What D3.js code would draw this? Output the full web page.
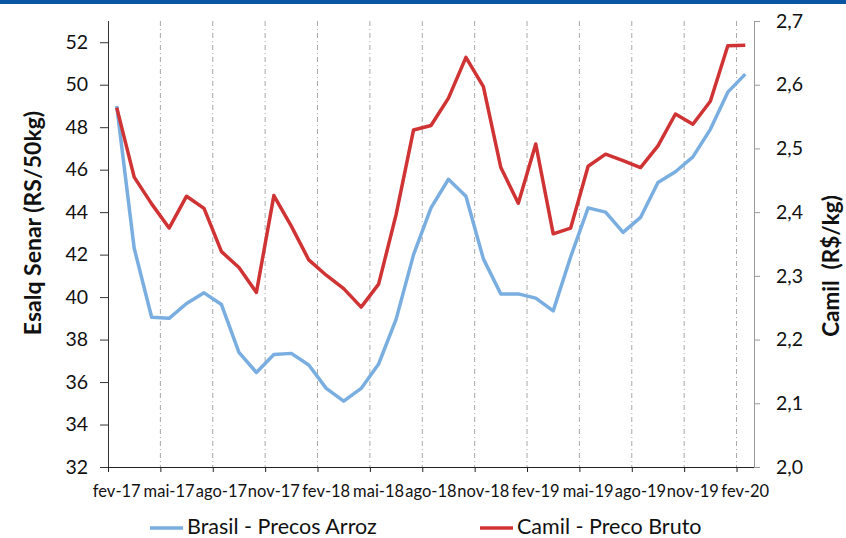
<!DOCTYPE html>
<html>
<head>
<meta charset="utf-8">
<script src="https://cdn.jsdelivr.net/npm/d3@7"></script>
<style>
  html, body { margin: 0; padding: 0; background: #fff; }
  svg { display: block; }
  text { font-family: Lato, "Open Sans", sans-serif; fill: #111; }
</style>
</head>
<body>
<svg id="chart" width="846" height="538"></svg>
<script>
// ---- data ----
const months = [
  "fev-17","mar-17","abr-17","mai-17","jun-17","jul-17","ago-17","set-17","out-17","nov-17","dez-17","jan-18",
  "fev-18","mar-18","abr-18","mai-18","jun-18","jul-18","ago-18","set-18","out-18","nov-18","dez-18","jan-19",
  "fev-19","mar-19","abr-19","mai-19","jun-19","jul-19","ago-19","set-19","out-19","nov-19","dez-19","jan-20",
  "fev-20"
];
const brasilArroz = [
  49.0, 42.3, 39.05, 39.0, 39.7, 40.2, 39.65, 37.4, 36.45, 37.3, 37.35, 36.8,
  35.7, 35.1, 35.7, 36.85, 38.95, 42.0, 44.2, 45.55, 44.75, 41.8, 40.15, 40.15,
  39.95, 39.35, 41.9, 44.2, 44.0, 43.05, 43.75, 45.4, 45.9, 46.6, 47.9, 49.65,
  50.5
];
const camilBruto = [
  2.564, 2.455, 2.413, 2.375, 2.425, 2.406, 2.338, 2.313, 2.274, 2.426, 2.378, 2.325,
  2.301, 2.280, 2.251, 2.287, 2.396, 2.529, 2.536, 2.579, 2.643, 2.597, 2.470, 2.414,
  2.507, 2.366, 2.375, 2.472, 2.491, 2.481, 2.470, 2.504, 2.554, 2.538, 2.574, 2.661,
  2.662
];
const leftTicks = [32, 34, 36, 38, 40, 42, 44, 46, 48, 50, 52];
const rightTicks = [2.0, 2.1, 2.2, 2.3, 2.4, 2.5, 2.6, 2.7];
const labelEvery = 3;
const seriesNames = ["Brasil - Precos Arroz", "Camil - Preco Bruto"];
const seriesColors = ["#7aaee0", "#d03334"];

// ---- layout ----
const L = 108, R = 754, T = 21, B = 467;
const svg = d3.select("#chart");

// top blue bar
svg.append("rect").attr("x", 0).attr("y", 0).attr("width", 846).attr("height", 4).attr("fill", "#0a56a5");

const idx = d3.range(months.length);
const x = d3.scaleBand().domain(idx).range([L, R]).padding(0);
const xEdge = d3.scaleLinear().domain([0, months.length]).range([L, R]);
const yL = d3.scaleLinear().domain([32, 53]).range([B, T]);
const yR = d3.scaleLinear().domain([2.0, 2.7]).range([B, T]);

const tickIdx = idx.filter(i => i % labelEvery === 0);

// vertical gridlines
svg.append("g").selectAll("line")
  .data(tickIdx.filter(i => i > 0))
  .join("line")
  .attr("x1", d => xEdge(d)).attr("x2", d => xEdge(d))
  .attr("y1", T).attr("y2", B)
  .attr("stroke", "#a8a8a8").attr("stroke-width", 1)
  .attr("stroke-dasharray", "5,3,1,3");

// x axis (ticks at band edges)
const gx = svg.append("g").attr("transform", `translate(0,${B})`)
  .call(d3.axisBottom(xEdge).tickValues(tickIdx).tickSize(5).tickSizeOuter(0).tickFormat(""));
gx.select(".domain").attr("stroke", "#222").attr("d", `M${L},0.5H${R + 6}`);
gx.selectAll(".tick line").attr("stroke", "#222");

// x labels at band centres
const gxl = svg.append("g").attr("transform", `translate(0,${B})`)
  .call(d3.axisBottom(x).tickValues(tickIdx).tickSize(0).tickFormat(i => months[i]));
gxl.select(".domain").remove();
gxl.selectAll("text").attr("y", 30).attr("dy", 0)
  .style("font-size", "16.5px").style("font-family", "Lato, sans-serif").attr("fill", "#111");

// left axis
const gl = svg.append("g").attr("transform", `translate(${L},0)`)
  .call(d3.axisLeft(yL).tickValues(leftTicks).tickSize(8).tickSizeOuter(0).tickPadding(12).tickFormat(d3.format("d")));
gl.select(".domain").attr("stroke", "#333").attr("d", `M0.5,${T}V${B}`);
gl.selectAll(".tick line").attr("stroke", "#333");
gl.selectAll("text").style("font-size", "19.5px").style("font-family", "Lato, sans-serif").attr("fill", "#111");

// right axis
const fmtR = d => d.toFixed(1).replace(".", ",");
const gr = svg.append("g").attr("transform", `translate(${R},0)`)
  .call(d3.axisRight(yR).tickValues(rightTicks).tickSize(6).tickSizeOuter(0).tickPadding(16).tickFormat(fmtR));
gr.select(".domain").attr("stroke", "#999").attr("d", `M0.5,${T}V${B}`);
gr.selectAll(".tick line").attr("stroke", "#999");
gr.selectAll("text").style("font-size", "19.5px").style("font-family", "Lato, sans-serif").attr("fill", "#111");

// axis titles
svg.append("text")
  .attr("transform", "translate(32,223) rotate(-90)")
  .attr("text-anchor", "middle").attr("dominant-baseline", "central")
  .style("font-size", "23px").style("font-weight", "bold")
  .text("Esalq Senar (RS/50kg)");
svg.append("text")
  .attr("transform", "translate(830,266) rotate(-90)")
  .attr("text-anchor", "middle").attr("dominant-baseline", "central")
  .style("font-size", "22.5px").style("font-weight", "bold").style("white-space", "pre")
  .text("Camil  (R$/kg)");

// lines
const cx = i => x(i) + x.bandwidth() / 2;
const lineL = d3.line().x((d, i) => cx(i)).y(d => yL(d));
const lineR = d3.line().x((d, i) => cx(i)).y(d => yR(d));

svg.append("path").datum(brasilArroz)
  .attr("fill", "none").attr("stroke", seriesColors[0]).attr("stroke-width", 3.5)
  .attr("stroke-linejoin", "round").attr("d", lineL);
svg.append("path").datum(camilBruto)
  .attr("fill", "none").attr("stroke", seriesColors[1]).attr("stroke-width", 3.5)
  .attr("stroke-linejoin", "round").attr("d", lineR);

// legend
const legendX = [150, 480];
const lg = svg.append("g");
seriesNames.forEach((name, k) => {
  lg.append("line").attr("x1", legendX[k]).attr("x2", legendX[k] + 33)
    .attr("y1", 528).attr("y2", 528)
    .attr("stroke", seriesColors[k]).attr("stroke-width", 3.5);
  lg.append("text").attr("x", legendX[k] + 37).attr("y", 534)
    .style("font-size", "21.5px").text(name);
});
</script>
</body>
</html>
